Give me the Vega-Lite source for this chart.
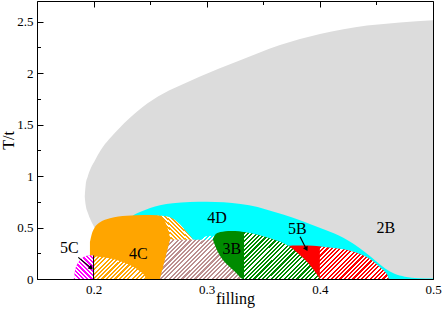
{
"$schema":"https://vega.github.io/schema/vega-lite/v6.json",
"width":396,"height":278,"autosize":{"type":"none"},
"padding":{"left":37,"top":1,"right":10,"bottom":34},
"background":"white",
"config":{"view":{"stroke":null},"axis":{"labelFont":"Liberation Serif","labelFontSize":13,"labelColor":"#000","titleFont":"Liberation Serif","titleFontSize":16,"titleFontWeight":"normal","titleColor":"#000","tickColor":"#000","domainColor":"#000","domainWidth":1,"tickWidth":1,"grid":false,"labelFlush":false,"labelOverlap":false,"zindex":1}},
"params":[{"name":"hs","value":[
{"offset":0,"color":"rgba(255,255,255,0)"},
{"offset":0.0167,"color":"rgba(255,255,255,0)"},{"offset":0.0167,"color":"#fff"},
{"offset":0.0333,"color":"#fff"},{"offset":0.0333,"color":"rgba(255,255,255,0)"},
{"offset":0.05,"color":"rgba(255,255,255,0)"},{"offset":0.05,"color":"#fff"},
{"offset":0.0667,"color":"#fff"},{"offset":0.0667,"color":"rgba(255,255,255,0)"},
{"offset":0.0833,"color":"rgba(255,255,255,0)"},{"offset":0.0833,"color":"#fff"},
{"offset":0.1,"color":"#fff"},{"offset":0.1,"color":"rgba(255,255,255,0)"},
{"offset":0.1167,"color":"rgba(255,255,255,0)"},{"offset":0.1167,"color":"#fff"},
{"offset":0.1333,"color":"#fff"},{"offset":0.1333,"color":"rgba(255,255,255,0)"},
{"offset":0.15,"color":"rgba(255,255,255,0)"},{"offset":0.15,"color":"#fff"},
{"offset":0.1667,"color":"#fff"},{"offset":0.1667,"color":"rgba(255,255,255,0)"},
{"offset":0.1833,"color":"rgba(255,255,255,0)"},{"offset":0.1833,"color":"#fff"},
{"offset":0.2,"color":"#fff"},{"offset":0.2,"color":"rgba(255,255,255,0)"},
{"offset":0.2167,"color":"rgba(255,255,255,0)"},{"offset":0.2167,"color":"#fff"},
{"offset":0.2333,"color":"#fff"},{"offset":0.2333,"color":"rgba(255,255,255,0)"},
{"offset":0.25,"color":"rgba(255,255,255,0)"},{"offset":0.25,"color":"#fff"},
{"offset":0.2667,"color":"#fff"},{"offset":0.2667,"color":"rgba(255,255,255,0)"},
{"offset":0.2833,"color":"rgba(255,255,255,0)"},{"offset":0.2833,"color":"#fff"},
{"offset":0.3,"color":"#fff"},{"offset":0.3,"color":"rgba(255,255,255,0)"},
{"offset":0.3167,"color":"rgba(255,255,255,0)"},{"offset":0.3167,"color":"#fff"},
{"offset":0.3333,"color":"#fff"},{"offset":0.3333,"color":"rgba(255,255,255,0)"},
{"offset":0.35,"color":"rgba(255,255,255,0)"},{"offset":0.35,"color":"#fff"},
{"offset":0.3667,"color":"#fff"},{"offset":0.3667,"color":"rgba(255,255,255,0)"},
{"offset":0.3833,"color":"rgba(255,255,255,0)"},{"offset":0.3833,"color":"#fff"},
{"offset":0.4,"color":"#fff"},{"offset":0.4,"color":"rgba(255,255,255,0)"},
{"offset":0.4167,"color":"rgba(255,255,255,0)"},{"offset":0.4167,"color":"#fff"},
{"offset":0.4333,"color":"#fff"},{"offset":0.4333,"color":"rgba(255,255,255,0)"},
{"offset":0.45,"color":"rgba(255,255,255,0)"},{"offset":0.45,"color":"#fff"},
{"offset":0.4667,"color":"#fff"},{"offset":0.4667,"color":"rgba(255,255,255,0)"},
{"offset":0.4833,"color":"rgba(255,255,255,0)"},{"offset":0.4833,"color":"#fff"},
{"offset":0.5,"color":"#fff"},{"offset":0.5,"color":"rgba(255,255,255,0)"},
{"offset":0.5167,"color":"rgba(255,255,255,0)"},{"offset":0.5167,"color":"#fff"},
{"offset":0.5333,"color":"#fff"},{"offset":0.5333,"color":"rgba(255,255,255,0)"},
{"offset":0.55,"color":"rgba(255,255,255,0)"},{"offset":0.55,"color":"#fff"},
{"offset":0.5667,"color":"#fff"},{"offset":0.5667,"color":"rgba(255,255,255,0)"},
{"offset":0.5833,"color":"rgba(255,255,255,0)"},{"offset":0.5833,"color":"#fff"},
{"offset":0.6,"color":"#fff"},{"offset":0.6,"color":"rgba(255,255,255,0)"},
{"offset":0.6167,"color":"rgba(255,255,255,0)"},{"offset":0.6167,"color":"#fff"},
{"offset":0.6333,"color":"#fff"},{"offset":0.6333,"color":"rgba(255,255,255,0)"},
{"offset":0.65,"color":"rgba(255,255,255,0)"},{"offset":0.65,"color":"#fff"},
{"offset":0.6667,"color":"#fff"},{"offset":0.6667,"color":"rgba(255,255,255,0)"},
{"offset":0.6833,"color":"rgba(255,255,255,0)"},{"offset":0.6833,"color":"#fff"},
{"offset":0.7,"color":"#fff"},{"offset":0.7,"color":"rgba(255,255,255,0)"},
{"offset":0.7167,"color":"rgba(255,255,255,0)"},{"offset":0.7167,"color":"#fff"},
{"offset":0.7333,"color":"#fff"},{"offset":0.7333,"color":"rgba(255,255,255,0)"},
{"offset":0.75,"color":"rgba(255,255,255,0)"},{"offset":0.75,"color":"#fff"},
{"offset":0.7667,"color":"#fff"},{"offset":0.7667,"color":"rgba(255,255,255,0)"},
{"offset":0.7833,"color":"rgba(255,255,255,0)"},{"offset":0.7833,"color":"#fff"},
{"offset":0.8,"color":"#fff"},{"offset":0.8,"color":"rgba(255,255,255,0)"},
{"offset":0.8167,"color":"rgba(255,255,255,0)"},{"offset":0.8167,"color":"#fff"},
{"offset":0.8333,"color":"#fff"},{"offset":0.8333,"color":"rgba(255,255,255,0)"},
{"offset":0.85,"color":"rgba(255,255,255,0)"},{"offset":0.85,"color":"#fff"},
{"offset":0.8667,"color":"#fff"},{"offset":0.8667,"color":"rgba(255,255,255,0)"},
{"offset":0.8833,"color":"rgba(255,255,255,0)"},{"offset":0.8833,"color":"#fff"},
{"offset":0.9,"color":"#fff"},{"offset":0.9,"color":"rgba(255,255,255,0)"},
{"offset":0.9167,"color":"rgba(255,255,255,0)"},{"offset":0.9167,"color":"#fff"},
{"offset":0.9333,"color":"#fff"},{"offset":0.9333,"color":"rgba(255,255,255,0)"},
{"offset":0.95,"color":"rgba(255,255,255,0)"},{"offset":0.95,"color":"#fff"},
{"offset":0.9667,"color":"#fff"},{"offset":0.9667,"color":"rgba(255,255,255,0)"},
{"offset":0.9833,"color":"rgba(255,255,255,0)"},{"offset":0.9833,"color":"#fff"},
{"offset":1,"color":"#fff"}
]}],
"datasets":{
"gray":[{"x":0.1922,"t":0.80,"b":0.80},{"x":0.1930,"t":0.91,"b":0.72},{"x":0.1950,"t":1.00,"b":0.64},{"x":0.1975,"t":1.075,"b":0.57},{"x":0.2013,"t":1.153,"b":0.49},{"x":0.2060,"t":1.245,"b":0.40},{"x":0.2101,"t":1.31,"b":0},{"x":0.2165,"t":1.392,"b":0},{"x":0.2234,"t":1.472,"b":0},{"x":0.2310,"t":1.553,"b":0},{"x":0.2393,"t":1.635,"b":0},{"x":0.2569,"t":1.773,"b":0},{"x":0.2764,"t":1.880,"b":0},{"x":0.2941,"t":1.967,"b":0},{"x":0.3268,"t":2.112,"b":0},{"x":0.3648,"t":2.272,"b":0},{"x":0.4001,"t":2.379,"b":0},{"x":0.4417,"t":2.461,"b":0},{"x":0.4708,"t":2.492,"b":0},{"x":0.5000,"t":2.512,"b":0}],
"cyan":[{"x":0.235,"t":0.62,"b":0},{"x":0.241,"t":0.65,"b":0},{"x":0.25,"t":0.69,"b":0},{"x":0.2587,"t":0.717,"b":0},{"x":0.27,"t":0.735,"b":0},{"x":0.285,"t":0.749,"b":0},{"x":0.30,"t":0.75,"b":0},{"x":0.315,"t":0.745,"b":0},{"x":0.33,"t":0.728,"b":0},{"x":0.345,"t":0.70,"b":0},{"x":0.36,"t":0.65,"b":0},{"x":0.375,"t":0.60,"b":0},{"x":0.39,"t":0.54,"b":0},{"x":0.405,"t":0.475,"b":0},{"x":0.4207,"t":0.40,"b":0},{"x":0.43,"t":0.34,"b":0},{"x":0.44,"t":0.26,"b":0},{"x":0.45,"t":0.17,"b":0},{"x":0.458,"t":0.10,"b":0},{"x":0.466,"t":0.05,"b":0},{"x":0.475,"t":0.022,"b":0},{"x":0.487,"t":0.008,"b":0},{"x":0.5,"t":0.004,"b":0}],
"oht":[{"x":0.2550,"t":0.615,"b":0.37},{"x":0.2600,"t":0.615,"b":0.37},{"x":0.2676,"t":0.60,"b":0.37},{"x":0.2764,"t":0.53,"b":0.37},{"x":0.2820,"t":0.46,"b":0.37},{"x":0.2860,"t":0.41,"b":0.37},{"x":0.2885,"t":0.375,"b":0.37}],
"orange":[{"x":0.1968,"t":0.36,"b":0},{"x":0.1985,"t":0.44,"b":0},{"x":0.2005,"t":0.49,"b":0},{"x":0.2057,"t":0.55,"b":0},{"x":0.2145,"t":0.59,"b":0},{"x":0.2293,"t":0.615,"b":0},{"x":0.245,"t":0.622,"b":0},{"x":0.2558,"t":0.62,"b":0},{"x":0.2605,"t":0.60,"b":0},{"x":0.2635,"t":0.55,"b":0},{"x":0.2655,"t":0.49,"b":0},{"x":0.2668,"t":0.44,"b":0},{"x":0.2677,"t":0.38,"b":0}],
"brown":[{"x":0.2587,"t":0,"b":0},{"x":0.2676,"t":0.38,"b":0},{"x":0.3060,"t":0.38,"b":0},{"x":0.3323,"t":0,"b":0}],
"cyanh":[{"x":0.2930,"t":0.38,"b":0.375},{"x":0.2970,"t":0.405,"b":0.375},{"x":0.3020,"t":0.42,"b":0.375},{"x":0.3070,"t":0.415,"b":0.375}],
"greens":[{"x":0.3055,"t":0.39,"b":0.382},{"x":0.3075,"t":0.43,"b":0.32},{"x":0.3100,"t":0.448,"b":0.26},{"x":0.3140,"t":0.458,"b":0.19},{"x":0.3190,"t":0.465,"b":0.13},{"x":0.3250,"t":0.465,"b":0.07},{"x":0.3323,"t":0.457,"b":0},{"x":0.3340,"t":0.455,"b":0}],
"redsol":[{"x":0.3720,"t":0.322,"b":0},{"x":0.3760,"t":0.326,"b":0},{"x":0.3850,"t":0.326,"b":0},{"x":0.3940,"t":0.322,"b":0},{"x":0.4005,"t":0.316,"b":0}],
"greenh":[{"x":0.3330,"t":0.455,"b":0},{"x":0.3368,"t":0.448,"b":0},{"x":0.3420,"t":0.437,"b":0},{"x":0.3515,"t":0.41,"b":0},{"x":0.3600,"t":0.38,"b":0},{"x":0.3692,"t":0.34,"b":0},{"x":0.3770,"t":0.285,"b":0},{"x":0.3840,"t":0.216,"b":0},{"x":0.3900,"t":0.15,"b":0},{"x":0.3957,"t":0.07,"b":0},{"x":0.4000,"t":0,"b":0}],
"redh":[{"x":0.4000,"t":0.316,"b":0},{"x":0.4120,"t":0.30,"b":0},{"x":0.4266,"t":0.275,"b":0},{"x":0.4380,"t":0.23,"b":0},{"x":0.4473,"t":0.17,"b":0},{"x":0.4535,"t":0.11,"b":0},{"x":0.4575,"t":0.07,"b":0},{"x":0.4600,"t":0.03,"b":0},{"x":0.4610,"t":0,"b":0}],
"ohb":[{"x":0.2000,"t":0.22,"b":0},{"x":0.2100,"t":0.21,"b":0},{"x":0.2204,"t":0.185,"b":0},{"x":0.2280,"t":0.155,"b":0},{"x":0.2350,"t":0.12,"b":0},{"x":0.2410,"t":0.075,"b":0},{"x":0.2450,"t":0.035,"b":0},{"x":0.2470,"t":0,"b":0}],
"mag":[{"x":0.1825,"t":0,"b":0},{"x":0.1840,"t":0.10,"b":0},{"x":0.1865,"t":0.16,"b":0},{"x":0.1900,"t":0.205,"b":0},{"x":0.1940,"t":0.225,"b":0},{"x":0.2000,"t":0.228,"b":0}],
"vline":[{"x":0.2,"t":0,"t2":0.228}],
"arrows":[{"x":0.1865,"t":0.21,"x2":0.1978,"t2":0.107},{"x":0.3825,"t":0.41,"x2":0.3880,"t2":0.292}],
"head1":[{"x":0.1979,"t":0.1066}],
"head2":[{"x":0.3881,"t":0.2917}],
"labels":[{"x":0.1786,"t":0.30,"label":"5C"},{"x":0.2395,"t":0.24,"label":"4C"},{"x":0.3092,"t":0.597,"label":"4D"},{"x":0.3221,"t":0.295,"label":"3B"},{"x":0.3800,"t":0.483,"label":"5B"},{"x":0.4584,"t":0.50,"label":"2B"}]
},
"resolve":{"scale":{"x":"shared","y":"shared"},"axis":{"x":"independent","y":"independent"}},
"encoding":{
"x":{"field":"x","type":"quantitative","scale":{"domain":[0.15,0.5],"nice":false,"zero":false},"axis":null},
"y":{"field":"t","type":"quantitative","scale":{"domain":[0,2.7],"nice":false,"zero":false},"axis":null}
},
"layer":[
{"data":{"name":"gray"},"mark":{"type":"area","fill":"#dcdcdc","stroke":null,"interpolate":"monotone"},
 "encoding":{
 "x":{"field":"x","type":"quantitative","scale":{"domain":[0.15,0.5],"nice":false,"zero":false},"axis":{"orient":"bottom","values":[0.2,0.3,0.4,0.5],"format":"~g","tickSize":-6,"labelPadding":10,"domain":true,"title":"filling","titleY":24.5,"titleBaseline":"alphabetic"}},
 "y":{"field":"t","type":"quantitative","scale":{"domain":[0,2.7],"nice":false,"zero":false},"axis":{"orient":"left","values":[0,0.5,1,1.5,2,2.5],"format":"~g","tickSize":-6,"labelPadding":10,"domain":true,"title":"T/t","titleX":-24,"titleBaseline":"alphabetic","titleAngle":270}},
 "y2":{"field":"b"}}},
{"data":{"name":"cyan"},"mark":{"type":"area","fill":"#00ffff","stroke":null,"interpolate":"monotone"},
 "encoding":{
 "x":{"field":"x","type":"quantitative","scale":{"domain":[0.15,0.5],"nice":false,"zero":false},"axis":{"orient":"bottom","values":[0.15,0.25,0.35,0.45],"tickSize":-3.5,"labels":false,"domain":false,"title":null}},
 "y":{"field":"t","type":"quantitative","scale":{"domain":[0,2.7],"nice":false,"zero":false},"axis":{"orient":"left","values":[0.25,0.75,1.25,1.75,2.25],"tickSize":-3.5,"labels":false,"domain":false,"title":null}},
 "y2":{"field":"b"}}},
{"data":{"name":"oht"},"mark":{"type":"area","fill":"#ffa500","stroke":null,"interpolate":"monotone"},
 "encoding":{
 "x":{"field":"x","type":"quantitative","scale":{"domain":[0.15,0.5],"nice":false,"zero":false},"axis":{"orient":"top","values":[0.2,0.3,0.4,0.5],"tickSize":-6,"labels":false,"domain":true,"title":null}},
 "y":{"field":"t","type":"quantitative","scale":{"domain":[0,2.7],"nice":false,"zero":false},"axis":{"orient":"right","values":[0,0.5,1,1.5,2,2.5],"tickSize":-6,"labels":false,"domain":true,"title":null}},
 "y2":{"field":"b"}}},
{"data":{"name":"oht"},"mark":{"type":"area","stroke":null,"interpolate":"monotone","fill":{"expr":"{gradient:'linear',x1:0,y1:1,x2:2.27,y2:-0.605,stops:hs}"}},"encoding":{"y2":{"field":"b"}}},
{"data":{"name":"orange"},"mark":{"type":"area","fill":"#ffa500","stroke":null,"interpolate":"monotone"},
 "encoding":{
 "x":{"field":"x","type":"quantitative","scale":{"domain":[0.15,0.5],"nice":false,"zero":false},"axis":{"orient":"top","values":[0.15,0.25,0.35,0.45],"tickSize":-3.5,"labels":false,"domain":false,"title":null}},
 "y":{"field":"t","type":"quantitative","scale":{"domain":[0,2.7],"nice":false,"zero":false},"axis":{"orient":"right","values":[0.25,0.75,1.25,1.75,2.25],"tickSize":-3.5,"labels":false,"domain":false,"title":null}},
 "y2":{"field":"b"}}},
{"data":{"name":"brown"},"mark":{"type":"area","fill":"#bc8f8f","stroke":null},"encoding":{"y2":{"field":"b"}}},
{"data":{"name":"brown"},"mark":{"type":"area","stroke":null,"fill":{"expr":"{gradient:'linear',x1:0,y1:0,x2:1.268,y2:0.597,stops:hs}"}},"encoding":{"y2":{"field":"b"}}},
{"data":{"name":"cyanh"},"mark":{"type":"area","stroke":null,"interpolate":"monotone","fill":{"expr":"{gradient:'linear',x1:0,y1:0,x2:7.52,y2:2.19,stops:hs}"}},"encoding":{"y2":{"field":"b"}}},
{"data":{"name":"greens"},"mark":{"type":"area","fill":"#008b00","stroke":null,"interpolate":"monotone"},"encoding":{"y2":{"field":"b"}}},
{"data":{"name":"redsol"},"mark":{"type":"area","fill":"#ff0000","stroke":null,"interpolate":"monotone"},"encoding":{"y2":{"field":"b"}}},
{"data":{"name":"greenh"},"mark":{"type":"area","fill":"#008b00","stroke":null,"interpolate":"monotone"},"encoding":{"y2":{"field":"b"}}},
{"data":{"name":"greenh"},"mark":{"type":"area","stroke":null,"interpolate":"monotone","fill":{"expr":"{gradient:'linear',x1:0,y1:0,x2:1.229,y2:0.762,stops:hs}"}},"encoding":{"y2":{"field":"b"}}},
{"data":{"name":"redh"},"mark":{"type":"area","fill":"#ff0000","stroke":null,"interpolate":"monotone"},"encoding":{"y2":{"field":"b"}}},
{"data":{"name":"redh"},"mark":{"type":"area","stroke":null,"interpolate":"monotone","fill":{"expr":"{gradient:'linear',x1:0,y1:0,x2:1.53,y2:0.721,stops:hs}"}},"encoding":{"y2":{"field":"b"}}},
{"data":{"name":"ohb"},"mark":{"type":"area","fill":"#ffa500","stroke":null,"interpolate":"monotone"},"encoding":{"y2":{"field":"b"}}},
{"data":{"name":"ohb"},"mark":{"type":"area","stroke":null,"interpolate":"monotone","fill":{"expr":"{gradient:'linear',x1:0,y1:0,x2:2.052,y2:0.875,stops:hs}"}},"encoding":{"y2":{"field":"b"}}},
{"data":{"name":"mag"},"mark":{"type":"area","fill":"#ff00ff","stroke":null,"interpolate":"monotone"},"encoding":{"y2":{"field":"b"}}},
{"data":{"name":"mag"},"mark":{"type":"area","stroke":null,"interpolate":"monotone","fill":{"expr":"{gradient:'linear',x1:0,y1:1,x2:2.706,y2:-2.211,stops:hs}"}},"encoding":{"y2":{"field":"b"}}},
{"data":{"name":"vline"},"mark":{"type":"rule","color":"#000","strokeWidth":1},"encoding":{"y2":{"field":"t2"}}},
{"data":{"name":"arrows"},"mark":{"type":"rule","color":"#000","strokeWidth":1.2},"encoding":{"x2":{"field":"x2"},"y2":{"field":"t2"}}},
{"data":{"name":"head1"},"mark":{"type":"point","shape":"triangle-right","filled":true,"color":"#000","opacity":1,"size":28,"angle":40}},
{"data":{"name":"head2"},"mark":{"type":"point","shape":"triangle-right","filled":true,"color":"#000","opacity":1,"size":28,"angle":62}},
{"data":{"name":"labels"},"mark":{"type":"text","font":"Liberation Serif","fontSize":16,"color":"#000","align":"center","baseline":"middle"},"encoding":{"text":{"field":"label"}}}
]
}
